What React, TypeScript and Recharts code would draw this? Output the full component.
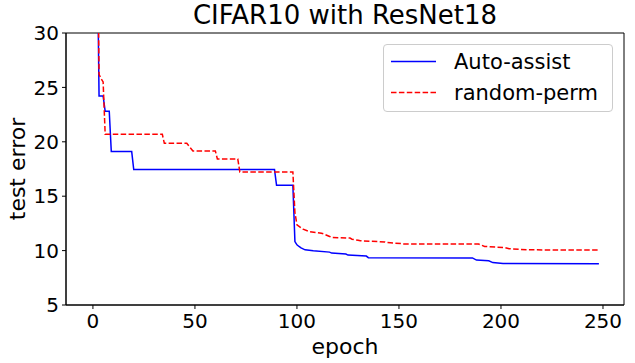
import React from "react";
import { ComposedChart, Line, XAxis, YAxis, Legend, ReferenceArea } from "recharts";

// Auto-assist (blue, solid): breakpoints of the test-error curve
const autoEpochs = [0, 1, 2, 3, 5, 6, 8, 9, 19, 20, 89, 90, 98, 99, 100, 101, 102, 104, 108, 116, 117, 124, 125, 134, 135, 186, 188, 194, 196, 201, 248];
const autoValues = [60, 48, 40, 24.2, 24.2, 22.8, 22.8, 19.1, 19.1, 17.45, 17.45, 16.0, 16.0, 10.83, 10.53, 10.38, 10.25, 10.07, 9.98, 9.86, 9.77, 9.68, 9.59, 9.5, 9.35, 9.33, 9.13, 9.06, 8.9, 8.82, 8.8];

// random-perm (red, dashed)
const permEpochs = [0, 1, 2, 3, 4, 5, 6, 34, 35, 46, 49, 60, 61, 71, 72, 98, 99, 100, 103, 106, 112, 113, 116, 117, 126, 127, 130, 131, 143, 144, 151, 152, 189, 192, 202, 204, 214, 248];
const permValues = [70, 55, 45, 26.2, 25.8, 25.5, 20.7, 20.7, 19.86, 19.86, 19.16, 19.16, 18.42, 18.42, 17.23, 17.23, 13.5, 12.37, 11.97, 11.75, 11.6, 11.54, 11.3, 11.2, 11.15, 11.05, 10.95, 10.9, 10.8, 10.74, 10.65, 10.6, 10.6, 10.38, 10.28, 10.17, 10.07, 10.05];

const xTicks = [0, 50, 100, 150, 200, 250];
const yTicks = [5, 10, 15, 20, 25, 30];
const xDomain = [-13.2, 260.3];
const yDomain = [5, 30];
const seriesNames = ["Auto-assist", "random-perm"];
const titleText = "CIFAR10 with ResNet18";
const xLabel = "epoch";
const yLabel = "test error";

const autoData = autoEpochs.map((e, i) => ({ epoch: e, value: autoValues[i] }));
const permData = permEpochs.map((e, i) => ({ epoch: e, value: permValues[i] }));

const FONT = "'DejaVu Sans', sans-serif";
const W = 635;
const H = 363;
const PL = 66, PR = 624, PT = 33, PB = 305;

const LegendBox = () => (
  <div
    style={{
      position: "relative",
      width: 230,
      height: 68,
      border: "1px solid #cccccc",
      borderRadius: 4,
      background: "rgba(255,255,255,0.8)",
      boxSizing: "border-box",
      fontFamily: FONT,
      fontSize: 21,
      color: "#000",
    }}
  >
    <svg width={230} height={68} style={{ position: "absolute", left: 0, top: 0 }}>
      <line x1={7} x2={52} y1={16.5} y2={16.5} stroke="#0000ff" strokeWidth={1.5} />
      <line x1={7} x2={52} y1={47.5} y2={47.5} stroke="#ff0000" strokeWidth={1.5} strokeDasharray="5.5 2.4" />
      <text x={70} y={24} fontFamily={FONT} fontSize={21} fill="#000">{seriesNames[0]}</text>
      <text x={70} y={55} fontFamily={FONT} fontSize={21} fill="#000">{seriesNames[1]}</text>
    </svg>
  </div>
);

export default function App() {
  return (
    <div style={{ position: "absolute", left: 0, top: 0, width: W, height: H, background: "#fff" }}>
      <div
        style={{
          position: "absolute",
          left: PL,
          width: PR - PL,
          top: 0,
          textAlign: "center",
          fontFamily: FONT,
          fontSize: 26,
          lineHeight: "30px",
          color: "#000",
        }}
      >
        {titleText}
      </div>
      <ComposedChart
        width={W}
        height={H}
        margin={{ top: PT, right: W - PR, bottom: 0, left: 0 }}
        style={{ position: "absolute", left: 0, top: 0 }}
      >
        <XAxis
          dataKey="epoch"
          type="number"
          domain={xDomain}
          ticks={xTicks}
          allowDataOverflow
          height={H - PB}
          tickSize={4}
          tickMargin={5}
          stroke="#000"
          tick={{ fill: "#000", fontFamily: FONT, fontSize: 20 }}
          label={{ value: xLabel, position: "insideBottom", offset: 9, fill: "#000", fontFamily: FONT, fontSize: 22 }}
        />
        <YAxis
          type="number"
          domain={yDomain}
          ticks={yTicks}
          allowDataOverflow
          width={PL}
          tickSize={4}
          tickMargin={3}
          stroke="#000"
          tick={{ fill: "#000", fontFamily: FONT, fontSize: 20 }}
          label={{ value: yLabel, angle: -90, position: "insideLeft", offset: 17, fill: "#000", fontFamily: FONT, fontSize: 22, style: { textAnchor: "middle" } }}
        />
        <ReferenceArea
          x1={xDomain[0]}
          x2={xDomain[1]}
          y1={yDomain[0]}
          y2={yDomain[1]}
          fill="none"
          fillOpacity={0}
          stroke="#000"
          strokeWidth={1}
          strokeOpacity={1}
          ifOverflow="visible"
        />
        <Line
          data={autoData}
          dataKey="value"
          name={seriesNames[0]}
          type="linear"
          dot={false}
          stroke="#0000ff"
          strokeWidth={1.5}
          isAnimationActive={false}
        />
        <Line
          data={permData}
          dataKey="value"
          name={seriesNames[1]}
          type="linear"
          dot={false}
          stroke="#ff0000"
          strokeWidth={1.5}
          strokeDasharray="5.5 2.4"
          isAnimationActive={false}
        />
        <Legend
          layout="vertical"
          align="center"
          verticalAlign="middle"
          content={() => <LegendBox />}
          wrapperStyle={{ left: 383, top: 44, width: 230, height: 68 }}
        />
      </ComposedChart>
    </div>
  );
}
